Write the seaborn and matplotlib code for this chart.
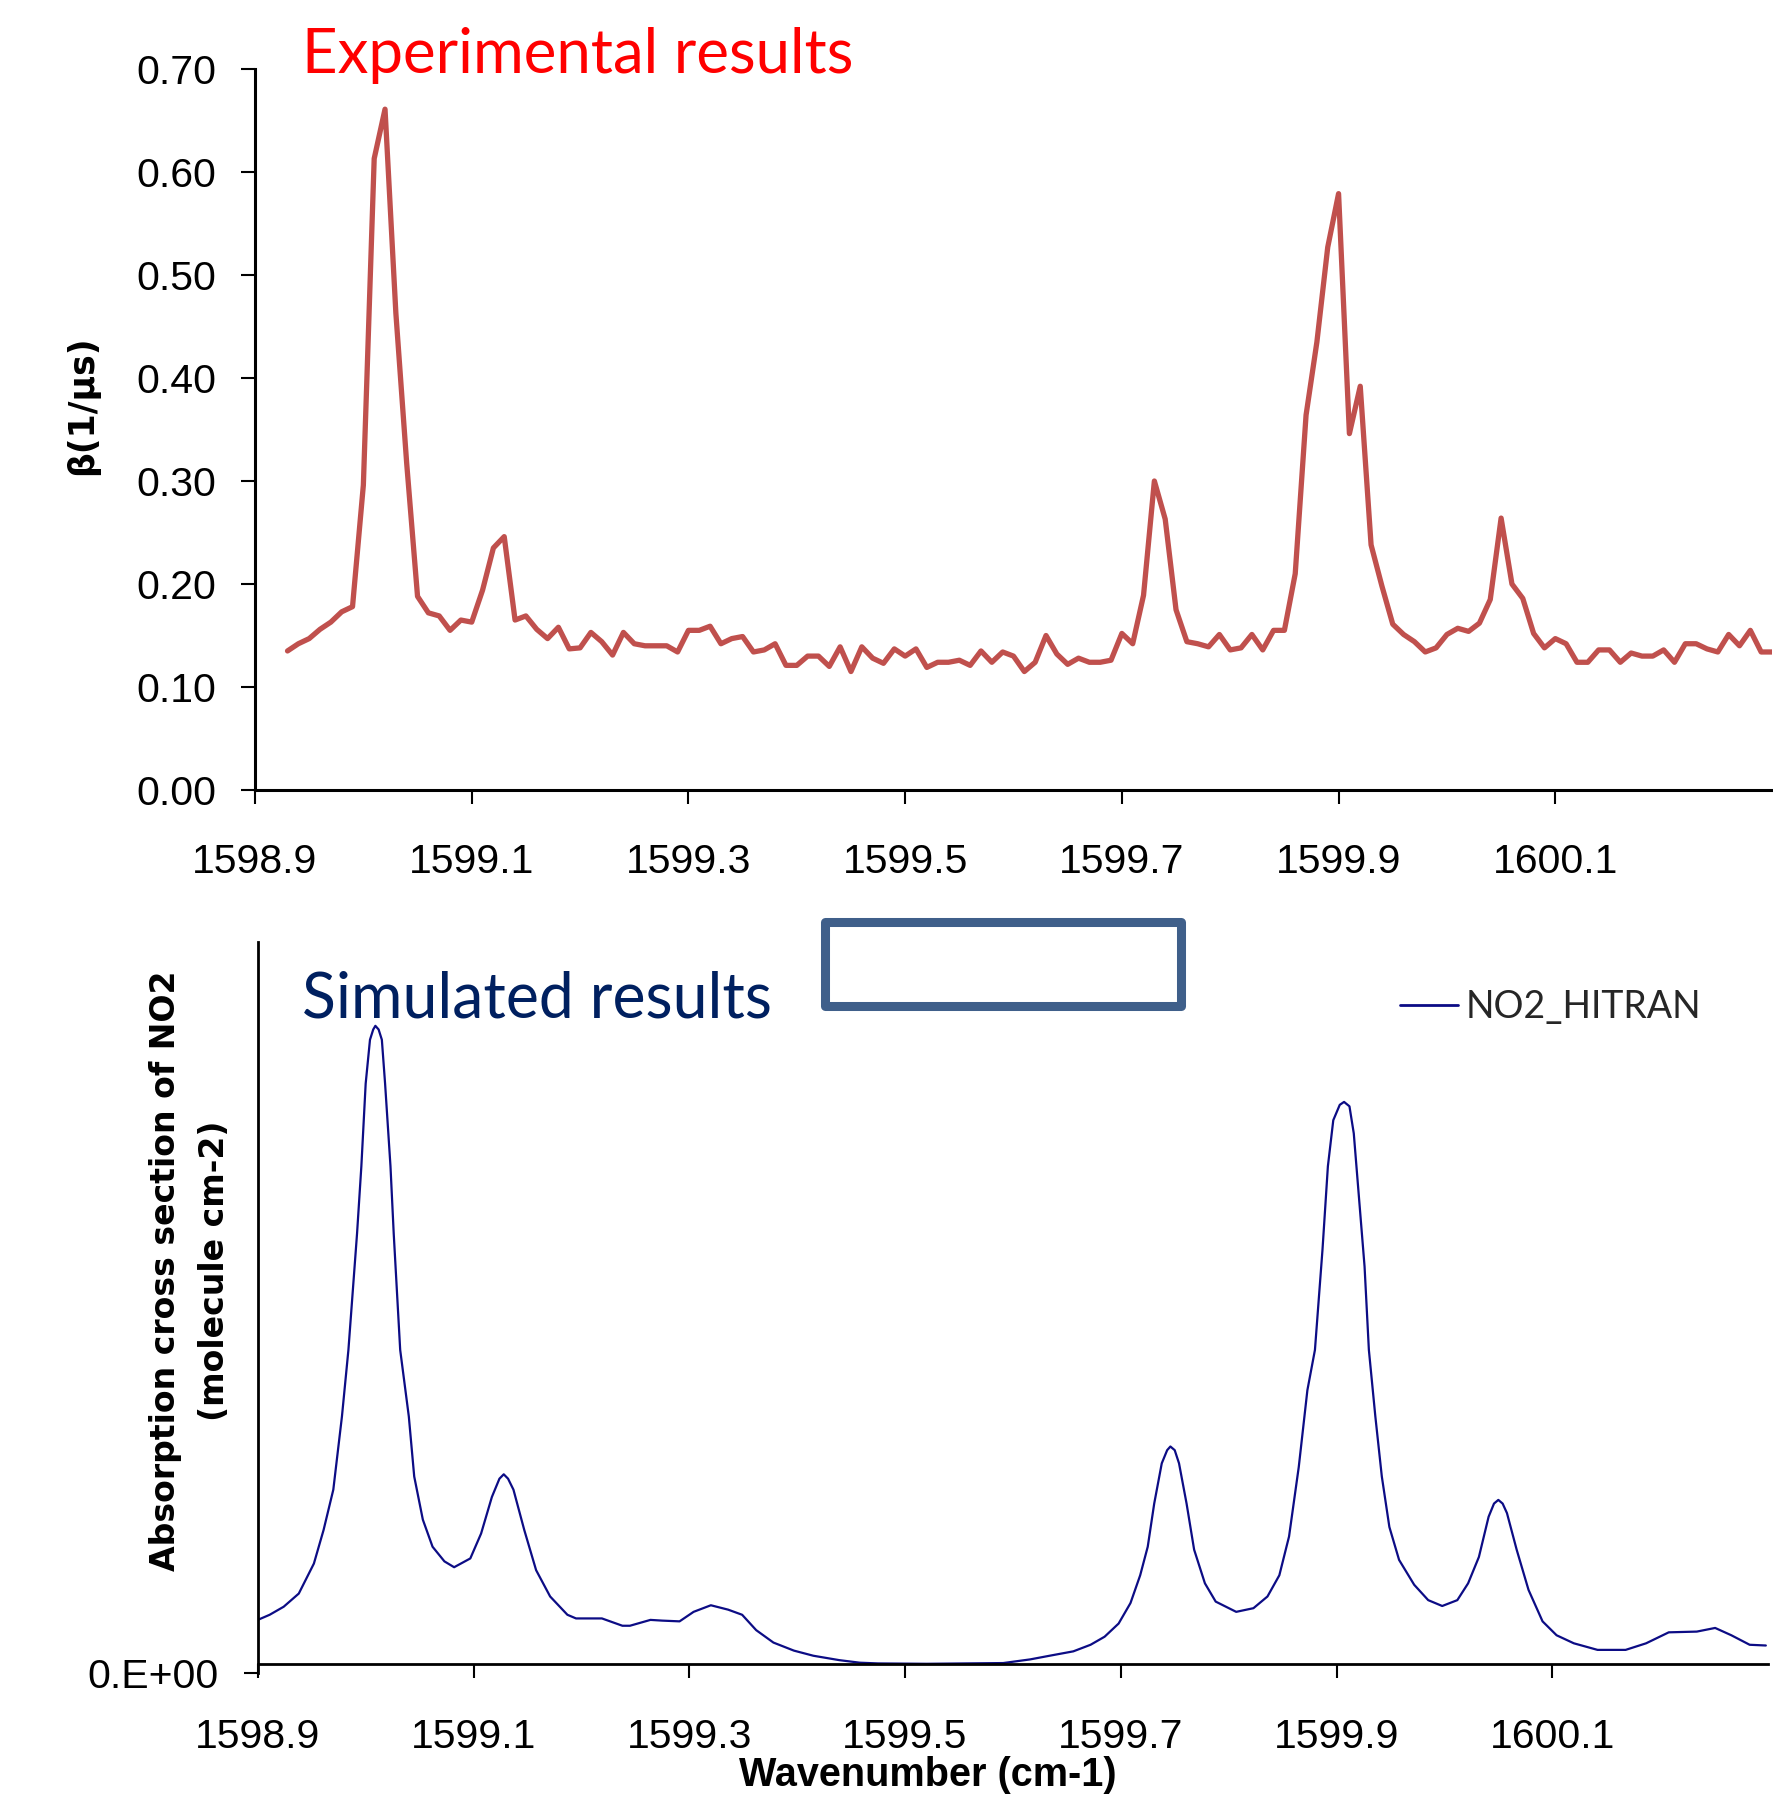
import numpy as np
import matplotlib
matplotlib.use("Agg")
import matplotlib.pyplot as plt
import matplotlib.patches as mpatches
from matplotlib.ticker import FixedLocator, FormatStrFormatter
from matplotlib import font_manager
import seaborn as sns

# ---------------- data ----------------
exp_start = 1598.93
exp_step = 0.01
exp_beta = [
    0.135, 0.142, 0.147, 0.156, 0.163, 0.173, 0.178, 0.296, 0.613, 0.661,
    0.463, 0.317, 0.188, 0.172, 0.169, 0.155, 0.165, 0.163, 0.194, 0.235,
    0.246, 0.165, 0.169, 0.156, 0.147, 0.158, 0.137, 0.138, 0.153, 0.144,
    0.131, 0.153, 0.142, 0.140, 0.140, 0.140, 0.134, 0.155, 0.155, 0.159,
    0.142, 0.147, 0.149, 0.134, 0.136, 0.142, 0.121, 0.121, 0.130, 0.130,
    0.120, 0.139, 0.115, 0.139, 0.128, 0.123, 0.137, 0.130, 0.137, 0.119,
    0.124, 0.124, 0.126, 0.121, 0.135, 0.124, 0.134, 0.130, 0.115, 0.124,
    0.150, 0.132, 0.122, 0.128, 0.124, 0.124, 0.126, 0.152, 0.142, 0.189,
    0.300, 0.263, 0.175, 0.144, 0.142, 0.139, 0.151, 0.136, 0.138, 0.151,
    0.136, 0.155, 0.155, 0.210, 0.364, 0.435, 0.527, 0.579, 0.346, 0.392,
    0.238, 0.198, 0.161, 0.151, 0.144, 0.134, 0.138, 0.151, 0.157, 0.154,
    0.162, 0.185, 0.264, 0.200, 0.186, 0.152, 0.138, 0.147, 0.142, 0.124,
    0.124, 0.136, 0.136, 0.124, 0.133, 0.130, 0.130, 0.136, 0.124, 0.142,
    0.142, 0.137, 0.134, 0.151, 0.140, 0.155, 0.134, 0.134,
]
exp_wn = np.round(exp_start + exp_step * np.arange(len(exp_beta)), 2)

sim_wn = [
    1598.900, 1598.911, 1598.924, 1598.938, 1598.952, 1598.961, 1598.970, 1598.978,
    1598.984, 1598.992, 1598.996, 1599.000, 1599.004, 1599.007, 1599.009, 1599.012,
    1599.015, 1599.018, 1599.023, 1599.026, 1599.032, 1599.040, 1599.045, 1599.053,
    1599.062, 1599.073, 1599.082, 1599.097, 1599.107, 1599.117, 1599.124, 1599.128,
    1599.132, 1599.137, 1599.147, 1599.158, 1599.171, 1599.187, 1599.195, 1599.219,
    1599.238, 1599.245, 1599.264, 1599.275, 1599.291, 1599.304, 1599.320, 1599.336,
    1599.349, 1599.362, 1599.378, 1599.397, 1599.415, 1599.439, 1599.458, 1599.475,
    1599.520, 1599.591, 1599.616, 1599.634, 1599.656, 1599.672, 1599.685, 1599.698,
    1599.709, 1599.718, 1599.725, 1599.731, 1599.738, 1599.743, 1599.746, 1599.750,
    1599.754, 1599.761, 1599.768, 1599.778, 1599.788, 1599.807, 1599.823, 1599.836,
    1599.847, 1599.856, 1599.865, 1599.873, 1599.880, 1599.887, 1599.892, 1599.897,
    1599.903, 1599.907, 1599.912, 1599.916, 1599.921, 1599.926, 1599.930, 1599.936,
    1599.942, 1599.949, 1599.958, 1599.972, 1599.985, 1599.998, 1600.012, 1600.022,
    1600.032, 1600.041, 1600.046, 1600.050, 1600.054, 1600.058, 1600.067, 1600.078,
    1600.091, 1600.104, 1600.120, 1600.142, 1600.168, 1600.187, 1600.208, 1600.234,
    1600.251, 1600.266, 1600.283, 1600.298,
]
sim_cross = [
    0.073, 0.080, 0.091, 0.109, 0.150, 0.196, 0.251, 0.351,
    0.442, 0.601, 0.693, 0.806, 0.866, 0.880, 0.885, 0.880,
    0.866, 0.806, 0.693, 0.601, 0.442, 0.351, 0.269, 0.210,
    0.173, 0.153, 0.145, 0.157, 0.191, 0.241, 0.266, 0.272,
    0.266, 0.251, 0.196, 0.141, 0.105, 0.080, 0.075, 0.075,
    0.065, 0.065, 0.073, 0.072, 0.071, 0.084, 0.093, 0.087,
    0.080, 0.059, 0.042, 0.031, 0.024, 0.018, 0.0145, 0.0135,
    0.013, 0.014, 0.019, 0.024, 0.030, 0.039, 0.050, 0.068,
    0.096, 0.134, 0.173, 0.232, 0.287, 0.305, 0.310, 0.305,
    0.287, 0.232, 0.169, 0.123, 0.098, 0.084, 0.089, 0.105,
    0.134, 0.187, 0.282, 0.387, 0.442, 0.579, 0.693, 0.756,
    0.777, 0.781, 0.775, 0.738, 0.647, 0.556, 0.442, 0.351,
    0.269, 0.200, 0.155, 0.121, 0.100, 0.092, 0.100, 0.123,
    0.159, 0.214, 0.232, 0.237, 0.232, 0.219, 0.169, 0.114,
    0.071, 0.052, 0.041, 0.032, 0.032, 0.041, 0.056, 0.057,
    0.062, 0.052, 0.039, 0.038,
]

x_ticks = [1598.9, 1599.1, 1599.3, 1599.5, 1599.7, 1599.9, 1600.1]
beta_ticks = [0.0, 0.1, 0.2, 0.3, 0.4, 0.5, 0.6, 0.7]
sim_tick_labels = ["0.E+00"]

# ---------------- style ----------------
sns.set_style("ticks")
plt.rcParams["font.family"] = ["Liberation Sans", "DejaVu Sans"]

installed = {f.name for f in font_manager.fontManager.ttflist}
if "Liberation Sans Narrow" in installed:
    tick_family = "Liberation Sans Narrow"
    tick_fs = 31
else:
    tick_family = "Liberation Sans"
    tick_fs = 29.5

W, H = 1774, 1804
fig = plt.figure(figsize=(W / 100, H / 100), dpi=100)

def fx(px):
    return px / W

def fy(py):
    return 1 - py / H

def style_ticks(ax, xpad):
    ax.tick_params(axis="x", direction="out", length=10, width=1.5, pad=xpad,
                   labelsize=tick_fs, colors="black")
    ax.tick_params(axis="y", direction="out", length=10, width=1.5, pad=18,
                   labelsize=tick_fs, colors="black")
    for lab in ax.get_xticklabels() + ax.get_yticklabels():
        lab.set_family(tick_family)

# ---------------- top panel ----------------
ax1 = fig.add_axes([fx(255), fy(790), fx(1772) - fx(255), fy(69) - fy(790)])
sns.lineplot(x=exp_wn, y=exp_beta, ax=ax1, color="#C0504D", linewidth=3.8)
ax1.set_xlim(1598.9, 1600.30)
ax1.set_ylim(0, 0.70)
ax1.xaxis.set_major_locator(FixedLocator(x_ticks))
ax1.xaxis.set_major_formatter(FormatStrFormatter("%.1f"))
ax1.yaxis.set_major_locator(FixedLocator(beta_ticks))
ax1.yaxis.set_major_formatter(FormatStrFormatter("%.2f"))
ax1.set_xlabel("")
ax1.set_ylabel("")
for s in ["top", "right"]:
    ax1.spines[s].set_visible(False)
for s in ["left", "bottom"]:
    ax1.spines[s].set_linewidth(2.2)
    ax1.spines[s].set_color("black")
style_ticks(ax1, 28)

# ---------------- bottom panel ----------------
ax2 = fig.add_axes([fx(257.8), fy(1673.3), fx(1768) - fx(257.8), fy(941.7) - fy(1673.3)])
sns.lineplot(x=sim_wn, y=sim_cross, ax=ax2, color="#0C0C85", linewidth=1.6,
             label="NO2_HITRAN")
ax2.set_xlim(1598.9, 1600.30)
ax2.set_ylim(0, 1.0)
ax2.xaxis.set_major_locator(FixedLocator(x_ticks))
ax2.xaxis.set_major_formatter(FormatStrFormatter("%.1f"))
ax2.yaxis.set_major_locator(FixedLocator([0.0]))
ax2.set_yticklabels(sim_tick_labels)
ax2.set_xlabel("")
ax2.set_ylabel("")
for s in ["top", "right"]:
    ax2.spines[s].set_visible(False)
for s in ["left", "bottom"]:
    ax2.spines[s].set_linewidth(2.0)
    ax2.spines[s].set_color("black")
ax2.spines["bottom"].set_position(("data", 0.0127))
style_ticks(ax2, 29)

leg = ax2.legend(loc="center left", bbox_to_anchor=(fx(1400), fy(1007)),
                 bbox_transform=fig.transFigure, frameon=False,
                 handlelength=1.55, handletextpad=0.2, borderpad=0,
                 borderaxespad=0, prop={"family": "Lato", "size": 27})
for line in leg.get_lines():
    line.set_linewidth(2.0)

# ---------------- texts ----------------
fig.text(fx(302), fy(72.5), "Experimental results", ha="left", va="baseline",
         color="#FF0000", fontsize=44.5, family="Lato")
fig.text(fx(302), fy(1017), "Simulated results", ha="left", va="baseline",
         color="#002060", fontsize=45, family="Lato")

fig.text(fx(82), fy(405), "β(1/μs)", rotation=90, ha="center", va="center",
         fontsize=25, fontweight="bold", family="DejaVu Sans", color="black")
fig.text(fx(190), fy(1271), "Absorption cross section of NO2\n(molecule cm-2)",
         rotation=90, ha="center", va="center", fontsize=23.9, fontweight="bold",
         family="DejaVu Sans", color="black", linespacing=1.65, multialignment="center")
fig.text(fx(928), fy(1775), "Wavenumber (cm-1)", ha="center", va="center",
         fontsize=28.5, fontweight="bold", family="Liberation Sans", color="black")

# empty outlined box between panels
rect = mpatches.Rectangle((fx(825), fy(1006)), fx(1181) - fx(825), fy(922) - fy(1006),
                          transform=fig.transFigure, fill=False,
                          edgecolor="#3F5F8A", linewidth=6.5, joinstyle="round")
fig.add_artist(rect)

fig.savefig("out.png", dpi=100, facecolor="white")
